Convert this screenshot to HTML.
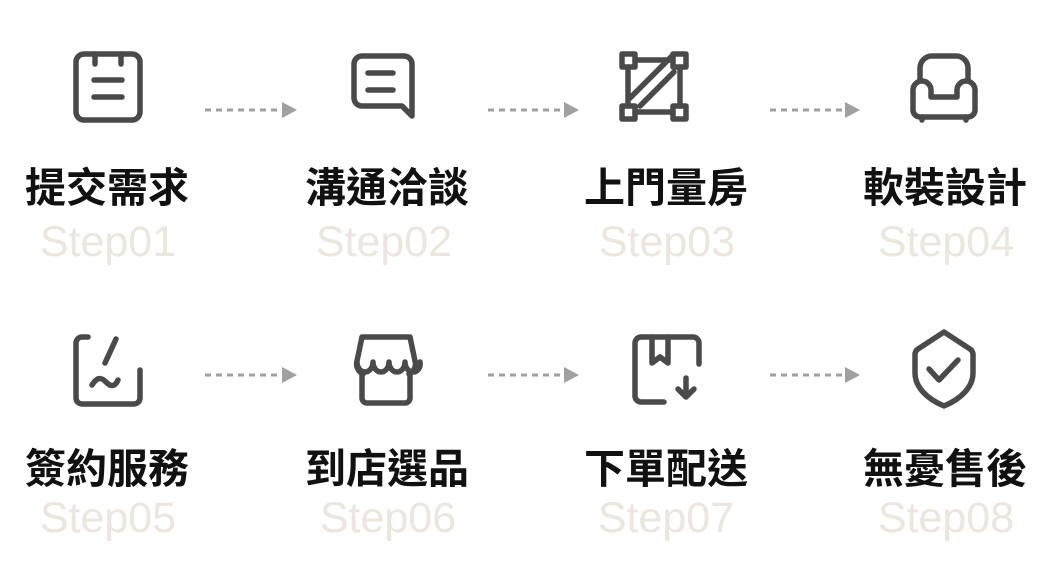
<!DOCTYPE html>
<html><head><meta charset="utf-8"><style>
html,body{margin:0;padding:0;background:#fff;width:1053px;height:576px;overflow:hidden}
svg{display:block}
.t{font-family:"Liberation Sans","Noto Sans CJK TC",sans-serif;font-weight:700;font-size:41px;fill:#111;text-anchor:middle}
.s{font-family:"Liberation Sans",sans-serif;font-size:43px;fill:#ece6df;text-anchor:middle}
.i{fill:none;stroke:#4a4a4a;stroke-width:5.5;stroke-linecap:round;stroke-linejoin:round}
.d{stroke:#a0a0a0;stroke-width:3;stroke-dasharray:6 5}
</style></head><body>
<svg width="1053" height="576" viewBox="0 0 1053 576">
<g class="i">
<rect x="76" y="54" width="64" height="66" rx="8"/>
<path d="M95 54v10M121 54v10M94 80h28M94 97h28"/>
</g>
<g class="i">
<path d="M362 56h42a8 8 0 0 1 8 8v52l-10-10h-40a8 8 0 0 1-8-8v-34a8 8 0 0 1 8-8z"/>
<path d="M368 73h25M368 90h25"/>
</g>
<g class="i">
<rect x="622" y="54" width="13" height="13"/><rect x="673" y="54" width="13" height="13"/>
<rect x="622" y="106" width="13" height="13"/><rect x="673" y="106" width="13" height="13"/>
<path d="M635 60h38M635 112h38M628 67v39M680 67v39M630 98l42-42M640 106l34-34"/>
</g>
<g class="i">
<path d="M920 80V68a12 12 0 0 1 12-12h24a12 12 0 0 1 12 12v12"/>
<path d="M931 97V90a9 9 0 0 0-18 0v20a7 7 0 0 0 7 7h48a7 7 0 0 0 7-7v-20a9 9 0 0 0-18 0v7z"/>
<path d="M922 117v3M966 117v3"/>
</g>
<g class="i">
<path d="M88 337h-6a6 6 0 0 0-6 6v55a6 6 0 0 0 6 6h52a6 6 0 0 0 6-6v-28"/>
<path d="M116 339l-11 24M92 385c5-8 9-8 14-3s9 5 12-2"/>
</g>
<g class="i">
<path d="M362 337h48l5 24a11 11 0 0 1-6 13M362 337l-5 24a11 11 0 0 0 6 13"/>
<path d="M357 362c0 6 4 10 8 10s8-4 8-10c0 6 4 10 8 10s8-4 8-10c0 6 4 10 8 10s8-4 8-10c0 6 4 10 8 10s8-4 7-10"/>
<path d="M362 374v24a5 5 0 0 0 5 5h38a5 5 0 0 0 5-5v-24"/>
</g>
<g class="i">
<path d="M699 364v-21a6 6 0 0 0-6-6h-52a6 6 0 0 0-6 6v53a6 6 0 0 0 6 6h23"/>
<path d="M652 337v26l8-6 8 6v-26"/>
<path d="M686 378v18M678 389l8 8 8-8"/>
</g>
<g class="i">
<path d="M944 332l-26 17a7 7 0 0 0-3 6v18c0 14 12 26 29 33 17-7 29-19 29-33v-18a7 7 0 0 0-3-6z"/>
<path d="M929 369l10 11 19-20"/>
</g>
<g>
<line class="d" x1="205" y1="110" x2="282" y2="110"/><polygon points="282,102 297,110 282,118" fill="#a0a0a0"/>
<line class="d" x1="488" y1="110" x2="564" y2="110"/><polygon points="564,102 579,110 564,118" fill="#a0a0a0"/>
<line class="d" x1="770" y1="110" x2="845" y2="110"/><polygon points="845,102 860,110 845,118" fill="#a0a0a0"/>
<line class="d" x1="205" y1="375" x2="282" y2="375"/><polygon points="282,367 297,375 282,383" fill="#a0a0a0"/>
<line class="d" x1="488" y1="375" x2="564" y2="375"/><polygon points="564,367 579,375 564,383" fill="#a0a0a0"/>
<line class="d" x1="770" y1="375" x2="845" y2="375"/><polygon points="845,367 860,375 845,383" fill="#a0a0a0"/>
</g>
<text class="t" x="107" y="202">提交需求</text>
<text class="t" x="387" y="202">溝通洽談</text>
<text class="t" x="666" y="202">上門量房</text>
<text class="t" x="945" y="202">軟裝設計</text>
<text class="s" x="108" y="256">Step01</text>
<text class="s" x="384" y="256">Step02</text>
<text class="s" x="667" y="256">Step03</text>
<text class="s" x="946" y="256">Step04</text>
<text class="t" x="107" y="483">簽約服務</text>
<text class="t" x="387" y="483">到店選品</text>
<text class="t" x="666" y="483">下單配送</text>
<text class="t" x="945" y="483">無憂售後</text>
<text class="s" x="108" y="532">Step05</text>
<text class="s" x="388" y="532">Step06</text>
<text class="s" x="666" y="532">Step07</text>
<text class="s" x="946" y="532">Step08</text>
</svg>
</body></html>
